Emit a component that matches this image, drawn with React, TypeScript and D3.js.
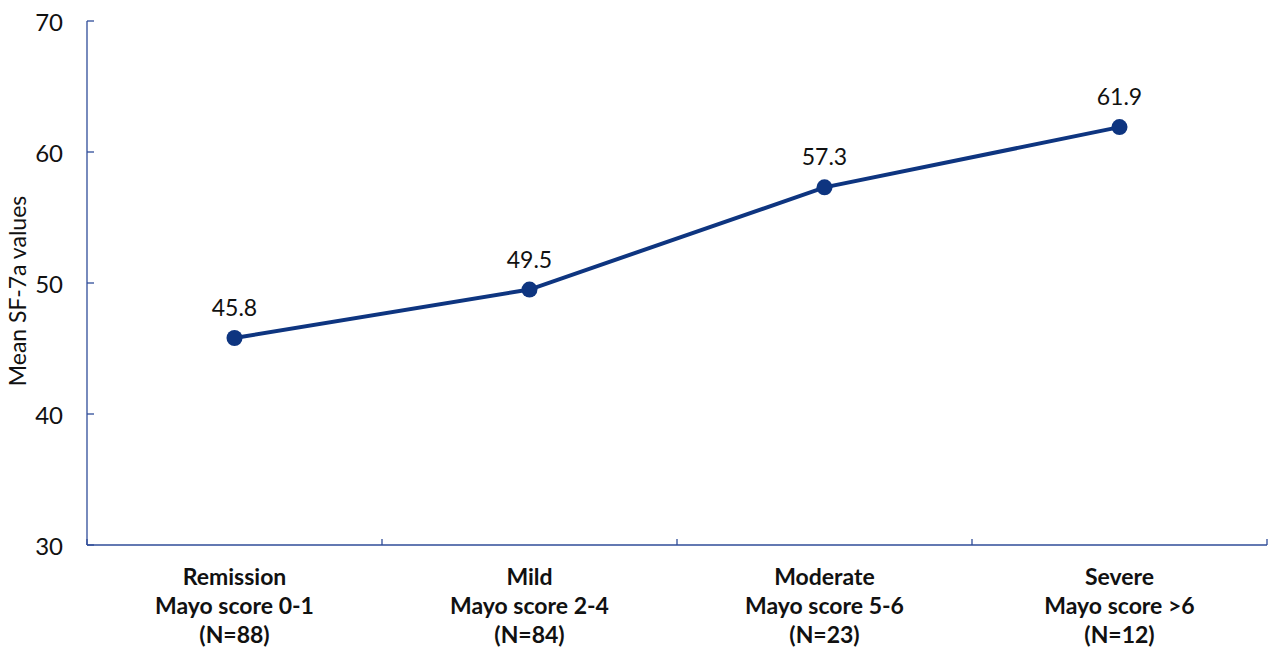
import React from "react";
import * as d3 from "d3";

const categories = ["Remission", "Mild", "Moderate", "Severe"];
const subLabels = ["Mayo score 0-1", "Mayo score 2-4", "Mayo score 5-6", "Mayo score >6"];
const nLabels = ["(N=88)", "(N=84)", "(N=23)", "(N=12)"];
const values = [45.8, 49.5, 57.3, 61.9];
const yTicks = [30, 40, 50, 60, 70];

const W = 1269;
const H = 647;
const left = 87;
const right = 1267;
const top = 21;
const bottom = 545;
const axisColor = "#2F4C99";
const lineColor = "#0E3580";
const font = "Lato, sans-serif";

export default function App() {
  const x = d3.scaleBand<string>().domain(categories).range([left, right]).padding(0);
  const y = d3.scaleLinear().domain([30, 70]).range([bottom, top]);
  const cx = (c: string) => (x(c) as number) + x.bandwidth() / 2;
  const line = d3
    .line<number>()
    .x((_, i) => cx(categories[i]))
    .y((d) => y(d));
  const boundaries = categories.map((c) => x(c) as number).concat([right]);

  return (
    <svg
      width={W}
      height={H}
      style={{ position: "absolute", left: 0, top: 0, fontFamily: font }}
    >
      <line x1={left} x2={left} y1={top} y2={bottom} stroke={axisColor} strokeWidth={1.3} />
      {yTicks.map((t) => (
        <g key={t}>
          <line x1={left} x2={left + 7} y1={y(t)} y2={y(t)} stroke={axisColor} strokeWidth={1.3} />
          <text x={left - 24} y={y(t)} textAnchor="end" dominantBaseline="central" fontSize={24} fill="#111">
            {t}
          </text>
        </g>
      ))}
      <line x1={left} x2={right} y1={bottom} y2={bottom} stroke={axisColor} strokeWidth={1.3} />
      {boundaries.map((b, i) => (
        <line key={i} x1={b} x2={b} y1={bottom} y2={bottom - 6} stroke={axisColor} strokeWidth={1.3} />
      ))}
      {categories.map((c, i) => (
        <text key={c} x={cx(c)} textAnchor="middle" fontSize={23} fontWeight="bold" fill="#111">
          <tspan x={cx(c)} y={585}>{c}</tspan>
          <tspan x={cx(c)} y={614}>{subLabels[i]}</tspan>
          <tspan x={cx(c)} y={643}>{nLabels[i]}</tspan>
        </text>
      ))}
      <text
        transform={`translate(26,${(top + bottom) / 2 + 8}) rotate(-90)`}
        textAnchor="middle"
        fontSize={23}
        fill="#111"
      >
        Mean SF-7a values
      </text>
      <path d={line(values) || ""} fill="none" stroke={lineColor} strokeWidth={4} />
      {values.map((v, i) => (
        <g key={i}>
          <circle cx={cx(categories[i])} cy={y(v)} r={8} fill={lineColor} />
          <text x={cx(categories[i])} y={y(v) - 22} textAnchor="middle" fontSize={23} fill="#111">
            {v.toFixed(1)}
          </text>
        </g>
      ))}
    </svg>
  );
}
